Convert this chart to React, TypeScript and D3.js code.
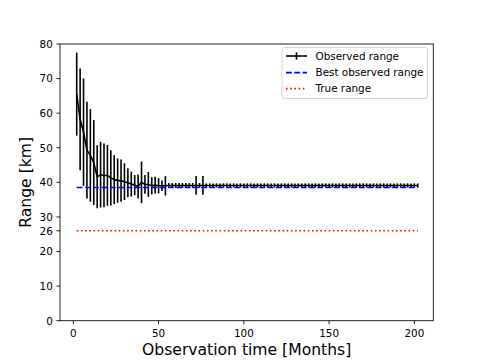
import React from 'react';
import * as d3 from 'd3';

// observation times (months)
const months = [
  2, 4, 6, 8, 10, 12, 14, 16, 18, 20, 22, 24, 26, 28, 30, 32, 34, 36, 38, 40,
  42, 44, 46, 48, 50, 52, 54, 56, 58, 60, 62, 64, 66, 68, 70, 72, 74, 76, 78, 80,
  82, 84, 86, 88, 90, 92, 94, 96, 98, 100, 102, 104, 106, 108, 110, 112, 114, 116, 118, 120,
  122, 124, 126, 128, 130, 132, 134, 136, 138, 140, 142, 144, 146, 148, 150, 152, 154, 156, 158, 160,
  162, 164, 166, 168, 170, 172, 174, 176, 178, 180, 182, 184, 186, 188, 190, 192, 194, 196, 198, 200,
  202,
];

// mean observed range (km)
const meanRange = [
  65.5, 58.2, 54.5, 49.3, 47.8, 45.7, 41.6, 42.2, 42.0, 42.0, 41.3, 40.8, 40.5, 40.5, 40.2, 39.9, 39.5, 39.2, 38.8, 40.0,
  39.4, 39.4, 39.0, 39.2, 39.0, 39.0, 39.0, 39.1, 39.1, 39.1, 39.1, 39.1, 39.1, 39.1, 39.1, 39.1, 39.1, 39.1, 39.1, 39.1,
  39.1, 39.1, 39.1, 39.1, 39.1, 39.1, 39.1, 39.1, 39.1, 39.1, 39.1, 39.1, 39.1, 39.1, 39.1, 39.1, 39.1, 39.1, 39.1, 39.1,
  39.1, 39.1, 39.1, 39.1, 39.1, 39.1, 39.1, 39.1, 39.1, 39.1, 39.1, 39.1, 39.1, 39.1, 39.1, 39.1, 39.1, 39.1, 39.1, 39.1,
  39.1, 39.1, 39.1, 39.1, 39.1, 39.1, 39.1, 39.1, 39.1, 39.1, 39.1, 39.1, 39.1, 39.1, 39.1, 39.1, 39.1, 39.1, 39.1, 39.1,
  39.1,
];

// half-width of the error bars (km)
const errRange = [
  12.0, 14.7, 15.5, 14.0, 13.4, 12.3, 9.1, 9.5, 9.2, 8.8, 8.0, 7.1, 6.4, 6.1, 5.3, 4.2, 3.6, 2.9, 3.5, 6.0,
  2.7, 3.6, 2.5, 2.4, 2.2, 1.5, 2.8, 0.7, 0.7, 0.7, 0.7, 0.7, 0.7, 0.7, 0.7, 2.7, 0.7, 2.7, 0.6, 0.6,
  0.6, 0.6, 0.6, 0.6, 0.6, 0.6, 0.6, 0.6, 0.6, 0.6, 0.6, 0.6, 0.6, 0.6, 0.6, 0.6, 0.6, 0.6, 0.6, 0.6,
  0.6, 0.6, 0.6, 0.6, 0.6, 0.6, 0.6, 0.6, 0.6, 0.6, 0.6, 0.6, 0.6, 0.6, 0.6, 0.6, 0.6, 0.6, 0.6, 0.6,
  0.6, 0.6, 0.6, 0.6, 0.6, 0.6, 0.6, 0.6, 0.6, 0.6, 0.6, 0.6, 0.6, 0.6, 0.6, 0.6, 0.6, 0.6, 0.6, 0.6,
  0.6,
];

const bestObserved = 38.5;
const trueRange = 26;

const xTicks = [0, 50, 100, 150, 200];
const yTicks = [0, 10, 20, 26, 30, 40, 50, 60, 70, 80];

const legendItems = ['Observed range', 'Best observed range', 'True range'];

const W = 482;
const H = 361;
const margin = { top: 44, right: 48.7, bottom: 40.3, left: 60 };
const FONT = 'DejaVu Sans, sans-serif';

const App = () => {
  const x = d3.scaleLinear().domain([-7.8, 211.1]).range([margin.left, W - margin.right]);
  const y = d3.scaleLinear().domain([0, 80]).range([H - margin.bottom, margin.top]);

  const pts = months.map((m, i) => ({ m, v: meanRange[i], e: errRange[i] }));
  const line = d3.line<{ m: number; v: number }>().x(d => x(d.m)).y(d => y(d.v));

  const x0 = x(months[0]);
  const x1 = x(months[months.length - 1]);
  const plotBottom = H - margin.bottom;
  const plotRight = W - margin.right;

  // legend box
  const lg = { x: 282, y: 47.5, w: 145.5, h: 51 };
  const rows = [56, 72.6, 88.6];
  const hx0 = 286, hx1 = 307, tx = 315.5;

  return (
    <svg width={W} height={H} style={{ display: 'block', background: '#fff' }} fontFamily={FONT}>
      <style>{'body{margin:0}'}</style>

      {/* error bars */}
      <g stroke="#000" strokeWidth={1.6}>
        {pts.map((d, i) => (
          <line key={i} x1={x(d.m)} x2={x(d.m)} y1={y(d.v - d.e)} y2={y(d.v + d.e)} />
        ))}
      </g>
      <path d={line(pts) || ''} fill="none" stroke="#000" strokeWidth={1.6} strokeLinejoin="round" />

      {/* best observed range */}
      <line x1={x0} x2={x1} y1={y(bestObserved)} y2={y(bestObserved)}
        stroke="#0000ff" strokeWidth={1.6} strokeDasharray="5.8,2.5" />
      {/* true range */}
      <line x1={x0} x2={x1} y1={y(trueRange)} y2={y(trueRange)}
        stroke="#ff0000" strokeWidth={1.6} strokeDasharray="1.6,2.6" />

      {/* frame */}
      <rect x={margin.left} y={margin.top} width={plotRight - margin.left} height={plotBottom - margin.top}
        fill="none" stroke="#000" strokeWidth={0.85} />

      {/* x axis */}
      {xTicks.map(t => (
        <g key={t}>
          <line x1={x(t)} x2={x(t)} y1={plotBottom} y2={plotBottom + 3.6} stroke="#000" strokeWidth={0.85} />
          <text x={x(t)} y={plotBottom + 16} textAnchor="middle" fontSize={10.4} fill="#000">{t}</text>
        </g>
      ))}
      <text x={(margin.left + plotRight) / 2} y={354.5} textAnchor="middle" fontSize={15.6} fill="#000">
        Observation time [Months]
      </text>

      {/* y axis */}
      {yTicks.map(t => (
        <g key={t}>
          <line x1={margin.left - 3.6} x2={margin.left} y1={y(t)} y2={y(t)} stroke="#000" strokeWidth={0.85} />
          <text x={margin.left - 7.2} y={y(t) + 3.8} textAnchor="end" fontSize={10.4} fill="#000">{t}</text>
        </g>
      ))}
      <text transform={`translate(31,${(margin.top + plotBottom) / 2}) rotate(-90)`} textAnchor="middle"
        fontSize={15.6} fill="#000">Range [km]</text>

      {/* legend */}
      <rect x={lg.x} y={lg.y} width={lg.w} height={lg.h} rx={2.5} fill="#fff" fillOpacity={0.8}
        stroke="#cccccc" strokeWidth={0.85} />
      <line x1={hx0} x2={hx1} y1={rows[0]} y2={rows[0]} stroke="#000" strokeWidth={1.6} />
      <line x1={(hx0 + hx1) / 2} x2={(hx0 + hx1) / 2} y1={rows[0] - 3.7} y2={rows[0] + 3.7} stroke="#000" strokeWidth={1.6} />
      <line x1={hx0} x2={hx1} y1={rows[1]} y2={rows[1]} stroke="#0000ff" strokeWidth={1.6} strokeDasharray="5.8,2.5" />
      <line x1={hx0} x2={hx1} y1={rows[2]} y2={rows[2]} stroke="#ff0000" strokeWidth={1.6} strokeDasharray="1.6,2.6" />
      {legendItems.map((s, i) => (
        <text key={s} x={tx} y={rows[i] + 3.8} fontSize={10.4} fill="#000">{s}</text>
      ))}
    </svg>
  );
};

export default App;
